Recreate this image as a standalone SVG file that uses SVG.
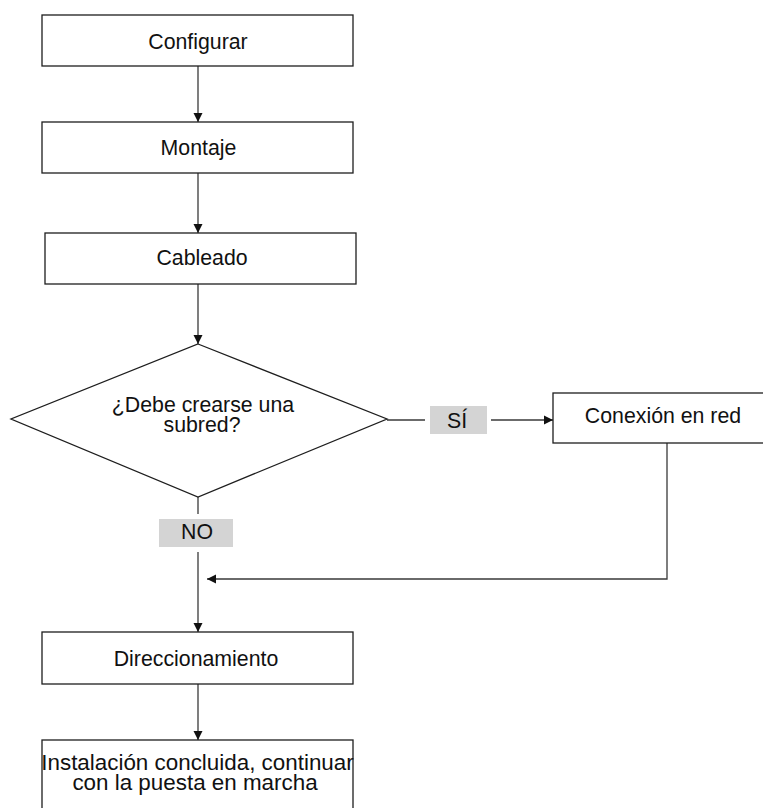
<svg xmlns="http://www.w3.org/2000/svg" width="763" height="808" viewBox="0 0 763 808">
<style>
  .box { fill: #ffffff; stroke: #1e1e1e; stroke-width: 1.3; }
  .lbl { fill: #d4d4d4; stroke: none; }
  .t { font-family: "Liberation Sans", Arial, sans-serif; font-size: 21.3px; fill: #111111; text-anchor: middle; }
  .big { font-size: 22.4px; }
  .c { fill: none; stroke: #3a3a3a; stroke-width: 1.3; }
</style>
<defs>
  <marker id="arr" markerUnits="userSpaceOnUse" markerWidth="10" markerHeight="10" refX="9" refY="5" orient="auto">
    <path d="M0,0.5 L9,5 L0,9.5 z" fill="#111111"/>
  </marker>
</defs>
<rect x="0" y="0" width="763" height="808" fill="#ffffff"/>

<g id="connectors">
  <line class="c" x1="198" y1="66" x2="198" y2="122" marker-end="url(#arr)"/>
  <line class="c" x1="198" y1="173" x2="198" y2="233" marker-end="url(#arr)"/>
  <line class="c" x1="198" y1="284" x2="198" y2="344" marker-end="url(#arr)"/>
  <line class="c" x1="387" y1="420" x2="425" y2="420"/>
  <line class="c" x1="491" y1="420" x2="553" y2="420" marker-end="url(#arr)"/>
  <line class="c" x1="198" y1="497" x2="198" y2="514"/>
  <line class="c" x1="198" y1="552" x2="198" y2="632" marker-end="url(#arr)"/>
  <polyline class="c" points="667,443 667,579 207,579" marker-end="url(#arr)"/>
  <line class="c" x1="198" y1="684" x2="198" y2="740" marker-end="url(#arr)"/>
</g>

<g id="configurar">
  <rect class="box" x="42" y="15" width="311" height="51"/>
  <text class="t" x="198" y="49">Configurar</text>
</g>
<g id="montaje">
  <rect class="box" x="42" y="122" width="311" height="51"/>
  <text class="t" x="198.5" y="155">Montaje</text>
</g>
<g id="cableado">
  <rect class="box" x="45" y="233" width="311" height="51"/>
  <text class="t" x="202" y="265">Cableado</text>
</g>
<g id="decision">
  <polygon class="box" points="198,344 387,419 198,497 11,419"/>
  <text class="t"><tspan x="203" y="412">¿Debe crearse una</tspan><tspan x="202" y="432">subred?</tspan></text>
</g>
<g id="label-si">
  <rect class="lbl" x="430" y="406" width="57" height="28"/>
  <text class="t" x="457" y="428">SÍ</text>
</g>
<g id="label-no">
  <rect class="lbl" x="159" y="519" width="74" height="28"/>
  <text class="t" x="197" y="539">NO</text>
</g>
<g id="conexion">
  <rect class="box" x="553" y="393" width="220" height="50"/>
  <text class="t" x="663" y="423">Conexión en red</text>
</g>
<g id="direccionamiento">
  <rect class="box" x="42" y="632" width="311" height="52"/>
  <text class="t" x="196" y="666">Direccionamiento</text>
</g>
<g id="instalacion">
  <rect class="box" x="42" y="740" width="311" height="80"/>
  <text class="t big"><tspan x="197.5" y="770">Instalación concluida, continuar</tspan><tspan x="195" y="790">con la puesta en marcha</tspan></text>
</g>
</svg>
